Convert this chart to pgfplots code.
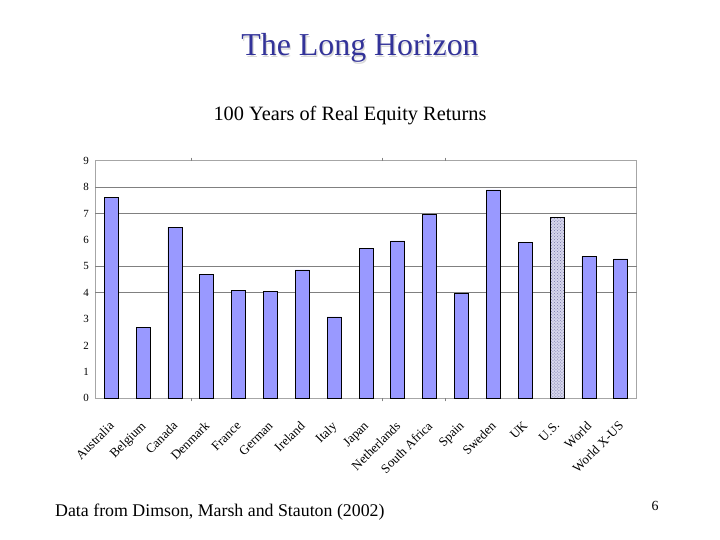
\documentclass[border=0pt]{standalone}
\usepackage{pgfplots}
\pgfplotsset{compat=1.18}
\usepackage{fontspec}
\setmainfont{Liberation Serif}
\usetikzlibrary{patterns}
\definecolor{barblue}{RGB}{153,153,255}
\definecolor{titleblue}{RGB}{51,51,153}
\definecolor{usfill}{RGB}{214,214,236}
\definecolor{usdots}{RGB}{120,120,170}
\begin{document}
\begin{tikzpicture}[x=1bp,y=1bp]
\fill[white] (0,0) rectangle (720,540);
% slide title with a light shadow
\node[anchor=base,font=\fontsize{32}{36}\selectfont,text=gray!30] at (361.2,482.8) {The Long Horizon};
\node[anchor=base,font=\fontsize{32}{36}\selectfont,text=titleblue] at (360,484) {The Long Horizon};
% chart title
\node[anchor=base,font=\fontsize{20.4}{24}\selectfont] at (350,419.3) {100 Years of Real Equity Returns};
\begin{axis}[
    at={(95.3bp,141.7bp)}, anchor=south west,
    scale only axis,
    width=541.4bp, height=237.6bp,
    ybar, bar width=14bp,
    xmin=-0.5, xmax=16.5,
    ymin=0, ymax=9,
    xtick={0,...,16},
    xticklabels={Australia,Belgium,Canada,Denmark,France,German,Ireland,Italy,Japan,Netherlands,South Africa,Spain,Sweden,UK,U.S.,World,World X-US},
    xtick style={draw=none},
    xticklabel style={xshift=-3bp, yshift=-17bp, rotate=45, anchor=north east, font=\fontsize{13}{14}\selectfont, inner sep=0.5bp},
    ytick={0,...,9},
    ytick style={draw=none},
    yticklabel style={font=\fontsize{11}{12}\selectfont, /pgf/number format/assume math mode=true, xshift=-3bp},
    extra y ticks={4,5,7,8},
    extra y tick labels={},
    extra y tick style={grid=major, major grid style={gray, line width=0.8pt}, ytick style={draw=none}},
    extra x ticks={2.5,8.5,10.5},
    extra x tick labels={},
    extra x tick style={tick align=outside, major tick length=3bp, xtick style={draw=gray, line width=0.6pt}},
    axis line style={gray!70, line width=0.8pt},
    clip=false,
]
\addplot[bar shift=0pt, fill=barblue, draw=black, line width=0.8pt] coordinates {
(0,7.61) (1,2.69) (2,6.48) (3,4.70) (4,4.09) (5,4.05) (6,4.86) (7,3.08)
(8,5.68) (9,5.96) (10,6.98) (11,3.98) (12,7.89) (13,5.91) (15,5.38) (16,5.28)};
\addplot[bar shift=0pt, fill=usfill, draw=black, line width=0.8pt,
    postaction={pattern=crosshatch dots, pattern color=usdots}] coordinates {(14,6.86)};
\end{axis}
% footnote and page number
\node[anchor=base west,font=\fontsize{17.9}{20}\selectfont,inner sep=0pt] at (55,23) {Data from Dimson, Marsh and Stauton (2002)};
\node[anchor=base,font=\fontsize{14}{16}\selectfont] at (655,29) {6};
\end{tikzpicture}
\end{document}
